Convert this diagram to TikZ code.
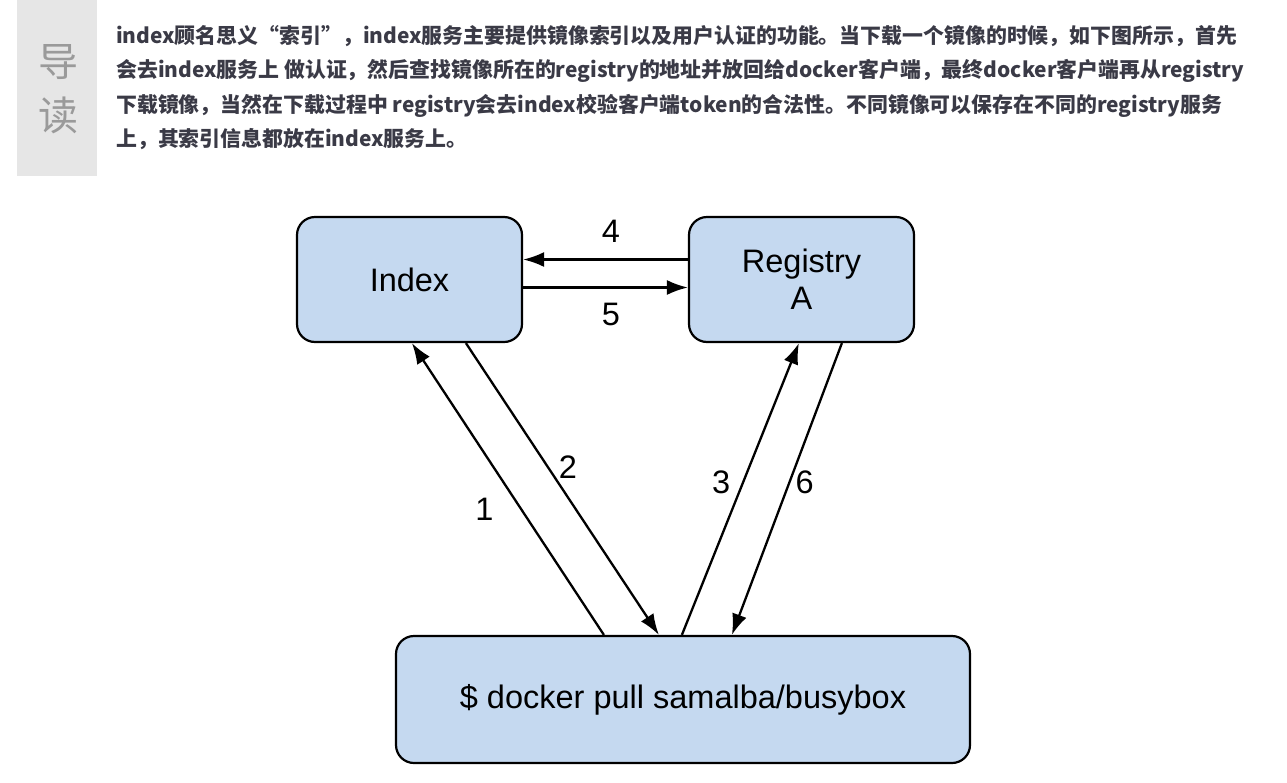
\documentclass[tikz,border=0pt]{standalone}
\usepackage{fontspec}
\setmainfont{Liberation Sans}
\newfontfamily\cjk{Noto Sans CJK SC}
\usetikzlibrary{arrows.meta,positioning}
\definecolor{boxblue}{HTML}{C5D9F0}
\definecolor{sidegray}{HTML}{E6E6E6}
\definecolor{txtgray}{HTML}{3A3A46}
\definecolor{markgray}{HTML}{9A9A9A}
\begin{document}
\begin{tikzpicture}[x=1pt,y=-1pt]
		\tikzstyle{server}=[draw,line width=2.2pt,fill=boxblue,rounded corners=18pt,minimum width=225pt,minimum height=125pt,align=center,font=\fontsize{32.5}{37}\selectfont]
		\tikzstyle{flow}=[line width=2.3pt,-{Latex[length=21pt,width=15pt]}]
		\tikzstyle{num}=[font=\fontsize{32.5}{37}\selectfont]
		\tikzstyle{sidemark}=[font=\cjk\fontsize{40}{40}\selectfont,text=markgray]

		\useasboundingbox (0,0) rectangle (1287,782);

		\fill[sidegray] (17,0) rectangle (97,176);
		\node[sidemark](dao) at (58,62){导};
		\node[sidemark](du) at (58,115){读};
		\node[anchor=north west,align=left,inner sep=0,text=txtgray,font=\cjk\bfseries\fontsize{20.9}{34.4}\selectfont](intro) at (116,25){index顾名思义“索引”，index服务主要提供镜像索引以及用户认证的功能。当下载一个镜像的时候，如下图所示，首先\\会去index服务上 做认证，然后查找镜像所在的registry的地址并放回给docker客户端，最终docker客户端再从registry\\下载镜像，当然在下载过程中 registry会去index校验客户端token的合法性。不同镜像可以保存在不同的registry服务\\上，其索引信息都放在index服务上。};

		\node[server](idx) at (409.5,279.5){Index};
		\node[server](reg) at (801.5,279.5){Registry\\A};
		\node[server,minimum width=574pt,minimum height=127pt](cli) at (683,699.5){\$ docker pull samalba/busybox};

		\draw[flow] ([xshift=209pt]cli.north west) -- ([xshift=116pt]idx.south west) node[num,pos=.43,xshift=-37pt]{1};
		\draw[flow] ([xshift=170pt]idx.south west) -- ([xshift=264pt]cli.north west) node[num,pos=.425,xshift=20pt]{2};
		\draw[flow] ([xshift=287pt]cli.north west) -- ([xshift=111pt]reg.south west) node[num,pos=.524,xshift=-22pt]{3};
		\draw[flow] ([yshift=20pt]reg.west) -- ([yshift=20pt]idx.east) node[num,pos=.5,xshift=5.5pt,yshift=28.5pt]{4};
		\draw[flow] ([yshift=-8pt]idx.east) -- ([yshift=-8pt]reg.west) node[num,pos=.5,xshift=5.5pt,yshift=-27pt]{5};
		\draw[flow] ([xshift=154pt]reg.south west) -- ([xshift=337pt]cli.north west) node[num,pos=.476,xshift=15pt]{6};
	\end{tikzpicture}
\end{document}
